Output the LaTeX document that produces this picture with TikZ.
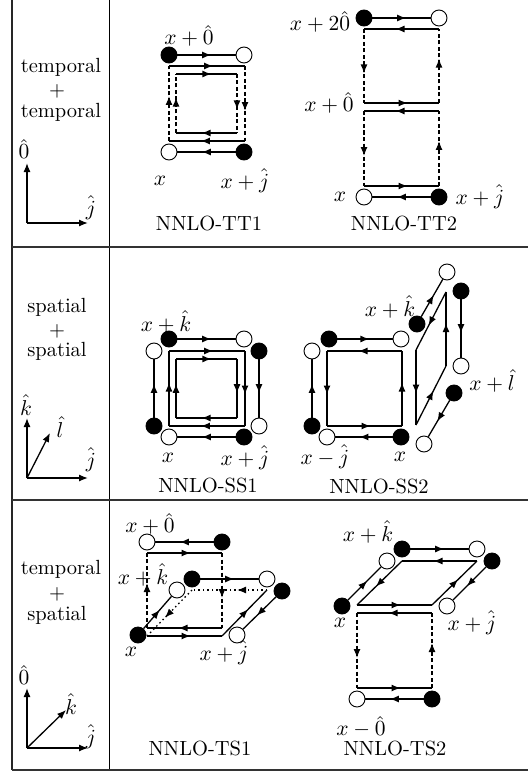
\documentclass[tikz,border=0pt]{standalone}
\usepackage{amsmath,amssymb}
\usepackage{xcolor}
\usetikzlibrary{arrows.meta,decorations.markings}

\begin{document}
\begin{tikzpicture}[
    x=1pt, y=-1pt,
    wsite/.style={circle, draw, fill=white, line width=0.9pt, minimum size=16pt, inner sep=0pt},
    bsite/.style={circle, draw, fill=black, line width=0.9pt, minimum size=16pt, inner sep=0pt},
    lab/.style={scale=2.15, inner sep=0pt},
    capt/.style={scale=2.05, inner sep=0pt},
    rowtext/.style={scale=2.05, inner sep=0pt},
    link/.style={line width=1.3pt, postaction={decorate}, decoration={markings, mark=at position #1 with {\arrow{Latex[length=9pt,width=7pt]}}}},
    link/.default=0.58,
    dlink/.style={link=#1, dash pattern=on 4pt off 2.5pt},
    dlink/.default=0.6,
    plink/.style={link=#1, dash pattern=on 1.5pt off 3pt},
    axis/.style={line width=1.3pt, -{Latex[length=9pt,width=7pt]}},
    grid/.style={line width=1.4pt, black!80}
]
\useasboundingbox (0,0) rectangle (528,773);

% Table rules
\coordinate (ltop) at (12,0);
\coordinate (lbot) at (12,770);
\coordinate (mtop) at (109,0);
\coordinate (mbot) at (109,770);
\draw[line width=1.7pt, black!85] (ltop) -- (lbot);
\draw[line width=0.9pt] (mtop) -- (mbot);
\foreach \yy/\nm in {247/a, 500/b, 770/c} {
  \coordinate (r\nm l) at (12,\yy);
  \coordinate (r\nm r) at (528,\yy);
  \draw[grid] (r\nm l) -- (r\nm r);
}

% Row headers
\node[rowtext] (h1a) at (61,67) {temporal};
\node[rowtext] (h1b) at (57,91) {+};
\node[rowtext] (h1c) at (61,112) {temporal};
\node[rowtext] (h2a) at (57,307) {spatial};
\node[rowtext] (h2b) at (57,331) {+};
\node[rowtext] (h2c) at (57,351) {spatial};
\node[rowtext] (h3a) at (61,569) {temporal};
\node[rowtext] (h3b) at (57,594) {+};
\node[rowtext] (h3c) at (57,615) {spatial};

% Axes
\coordinate (o1) at (27,223);
\coordinate (o1u) at (27,163);
\coordinate (o1r) at (88,223);
\draw[axis] (o1) -- (o1u);
\draw[axis] (o1) -- (o1r);
\node[lab] (o1t) at (24,149) {$\hat{0}$};
\node[lab] (o1j) at (91,208) {$\hat{j}$};

\coordinate (o2) at (27,478);
\coordinate (o2u) at (27,418);
\coordinate (o2r) at (88,478);
\coordinate (o2d) at (50,433);
\draw[axis] (o2) -- (o2u);
\draw[axis] (o2) -- (o2r);
\draw[axis] (o2) -- (o2d);
\node[lab] (o2k) at (26,405) {$\hat{k}$};
\node[lab] (o2l) at (60,427) {$\hat{l}$};
\node[lab] (o2j) at (91,460) {$\hat{j}$};

\coordinate (o3) at (27,748);
\coordinate (o3u) at (27,688);
\coordinate (o3r) at (88,748);
\coordinate (o3d) at (66,710);
\draw[axis] (o3) -- (o3u);
\draw[axis] (o3) -- (o3r);
\draw[axis] (o3) -- (o3d);
\node[lab] (o3t) at (24,675) {$\hat{0}$};
\node[lab] (o3k) at (71,704) {$\hat{k}$};
\node[lab] (o3j) at (91,737) {$\hat{j}$};

% NNLO-TT1
\node[bsite] (a1) at (169,55) {};
\node[wsite] (a2) at (244,55) {};
\node[wsite] (a3) at (169,152) {};
\node[bsite] (a4) at (244,152) {};
\coordinate (a5) at (169,66);
\coordinate (a6) at (245,66);
\coordinate (a7) at (245,141);
\coordinate (a8) at (169,141);
\coordinate (a9) at (176,74);
\coordinate (a10) at (237,74);
\coordinate (a11) at (237,133);
\coordinate (a12) at (176,133);
\draw[link] (a1) -- (a2);
\draw[link] (a4) -- (a3);
\draw[link] (a5) -- (a6);
\draw[dlink] (a6) -- (a7);
\draw[link] (a7) -- (a8);
\draw[dlink] (a8) -- (a5);
\draw[link] (a9) -- (a10);
\draw[dlink] (a10) -- (a11);
\draw[link] (a11) -- (a12);
\draw[dlink] (a12) -- (a9);
\node[lab] (a1t) at (189,36) {$x+\hat{0}$};
\node[lab] (a3t) at (160,181) {$x$};
\node[lab] (a4t) at (245,181) {$x+\hat{j}$};
\node[capt] (tt1) at (209,223) {NNLO-TT1};

% NNLO-TT2
\node[bsite] (b1) at (364,18) {};
\node[wsite] (b2) at (439,18) {};
\node[wsite] (b3) at (364,197) {};
\node[bsite] (b4) at (439,197) {};
\coordinate (b5) at (364,29);
\coordinate (b6) at (439,29);
\coordinate (b7) at (364,103);
\coordinate (b8) at (439,103);
\coordinate (b9) at (364,111);
\coordinate (b10) at (439,111);
\coordinate (b11) at (364,186);
\coordinate (b12) at (439,186);
\draw[link] (b1) -- (b2);
\draw[link] (b6) -- (b5);
\draw[dlink] (b5) -- (b7);
\draw[link] (b7) -- (b8);
\draw[dlink] (b8) -- (b6);
\draw[link] (b10) -- (b9);
\draw[dlink] (b9) -- (b11);
\draw[link] (b11) -- (b12);
\draw[dlink] (b12) -- (b10);
\draw[link] (b4) -- (b3);
\node[lab] (b1t) at (320,22) {$x+2\hat{0}$};
\node[lab] (b7t) at (329,103) {$x+\hat{0}$};
\node[lab] (b3t) at (340,197) {$x$};
\node[lab] (b4t) at (480,197) {$x+\hat{j}$};
\node[capt] (tt2) at (404,223) {NNLO-TT2};

% NNLO-SS1
\node[bsite] (c1) at (169,339) {};
\node[wsite] (c2) at (244,339) {};
\node[wsite] (c3) at (154,351) {};
\node[bsite] (c4) at (154,426) {};
\node[bsite] (c5) at (259,351) {};
\node[wsite] (c6) at (259,426) {};
\node[wsite] (c7) at (169,437) {};
\node[bsite] (c8) at (244,437) {};
\coordinate (c9) at (169,351);
\coordinate (c10) at (245,351);
\coordinate (c11) at (245,426);
\coordinate (c12) at (169,426);
\coordinate (c13) at (176,359);
\coordinate (c14) at (237,359);
\coordinate (c15) at (237,418);
\coordinate (c16) at (176,418);
\draw[link] (c1) -- (c2);
\draw[link] (c4) -- (c3);
\draw[link] (c5) -- (c6);
\draw[link] (c8) -- (c7);
\draw[link] (c9) -- (c10);
\draw[link] (c10) -- (c11);
\draw[link] (c11) -- (c12);
\draw[link] (c12) -- (c9);
\draw[link] (c13) -- (c14);
\draw[link] (c14) -- (c15);
\draw[link] (c15) -- (c16);
\draw[link] (c16) -- (c13);
\node[lab] (c1t) at (166,322) {$x+\hat{k}$};
\node[lab] (c7t) at (168,458) {$x$};
\node[lab] (c8t) at (245,458) {$x+\hat{j}$};
\node[capt] (ss1) at (208,485) {NNLO-SS1};

% NNLO-SS2
\node[bsite] (d1) at (329,339) {};
\node[wsite] (d2) at (401,339) {};
\node[wsite] (d3) at (312,351) {};
\node[bsite] (d4) at (312,426) {};
\node[wsite] (d5) at (327,437) {};
\node[bsite] (d6) at (401,437) {};
\coordinate (d7) at (327,351);
\coordinate (d8) at (402,351);
\coordinate (d9) at (402,426);
\coordinate (d10) at (327,426);
\draw[link] (d1) -- (d2);
\draw[link] (d4) -- (d3);
\draw[link] (d6) -- (d5);
\draw[link] (d8) -- (d7);
\draw[link] (d7) -- (d10);
\draw[link] (d10) -- (d9);
\draw[link] (d9) -- (d8);
\node[bsite] (d11) at (417,324) {};
\node[wsite] (d12) at (447,272) {};
\node[bsite] (d13) at (461,291) {};
\node[wsite] (d14) at (461,366) {};
\node[bsite] (d15) at (454,393) {};
\node[wsite] (d16) at (424,444) {};
\coordinate (d17) at (416,350);
\coordinate (d18) at (416,425);
\coordinate (d19) at (446,366);
\coordinate (d20) at (446,292);
\draw[link] (d11) -- (d12);
\draw[link] (d13) -- (d14);
\draw[link] (d15) -- (d16);
\draw[link] (d17) -- (d18);
\draw[link] (d18) -- (d19);
\draw[link] (d19) -- (d20);
\draw[link] (d20) -- (d17);
\node[lab] (d11t) at (390,307) {$x+\hat{k}$};
\node[lab] (d15t) at (492,381) {$x+\hat{l}$};
\node[lab] (d5t) at (325,457) {$x-\hat{j}$};
\node[lab] (d6t) at (400,457) {$x$};
\node[capt] (ss2) at (379,486) {NNLO-SS2};

% NNLO-TS1
\node[wsite] (e1) at (147,542) {};
\node[bsite] (e2) at (222,542) {};
\node[bsite] (e3) at (138,635) {};
\node[wsite] (e4) at (177,590) {};
\node[bsite] (e5) at (192,579) {};
\node[wsite] (e6) at (267,579) {};
\node[bsite] (e7) at (282,591) {};
\node[wsite] (e8) at (237,635) {};
\coordinate (e9) at (147,553);
\coordinate (e10) at (222,553);
\coordinate (e11) at (222,628);
\coordinate (e12) at (147,628);
\coordinate (e13) at (147,636);
\coordinate (e14) at (222,636);
\coordinate (e15) at (267,590);
\coordinate (e16) at (192,590);
\draw[link] (e2) -- (e1);
\draw[link] (e9) -- (e10);
\draw[dlink] (e10) -- (e11);
\draw[link] (e11) -- (e12);
\draw[dlink] (e12) -- (e9);
\draw[link] (e3) -- (e4);
\draw[link] (e5) -- (e6);
\draw[link] (e7) -- (e8);
\draw[link] (e13) -- (e14);
\draw[link] (e14) -- (e15);
\draw[plink=0.4] (e15) -- (e16);
\draw[plink=0.6] (e16) -- (e13);
\node[lab] (e1t) at (150,524) {$x+\hat{0}$};
\node[lab] (e4t) at (143,575) {$x+\hat{k}$};
\node[lab] (e3t) at (131,652) {$x$};
\node[lab] (e8t) at (224,653) {$x+\hat{j}$};
\node[capt] (ts1) at (200,748) {NNLO-TS1};

% NNLO-TS2
\node[bsite] (f1) at (342,606) {};
\node[wsite] (f2) at (387,561) {};
\node[bsite] (f3) at (402,549) {};
\node[wsite] (f4) at (477,549) {};
\node[bsite] (f5) at (492,561) {};
\node[wsite] (f6) at (447,606) {};
\node[wsite] (f7) at (357,699) {};
\node[bsite] (f8) at (432,699) {};
\coordinate (f9) at (357,605);
\coordinate (f10) at (432,605);
\coordinate (f11) at (477,561);
\coordinate (f12) at (402,561);
\coordinate (f13) at (357,613);
\coordinate (f14) at (432,613);
\coordinate (f15) at (357,688);
\coordinate (f16) at (432,688);
\draw[link] (f1) -- (f2);
\draw[link] (f3) -- (f4);
\draw[link] (f5) -- (f6);
\draw[link] (f8) -- (f7);
\draw[link] (f9) -- (f10);
\draw[link] (f10) -- (f11);
\draw[link] (f11) -- (f12);
\draw[link] (f12) -- (f9);
\draw[link] (f14) -- (f13);
\draw[dlink] (f13) -- (f15);
\draw[link] (f15) -- (f16);
\draw[dlink] (f16) -- (f14);
\node[lab] (f3t) at (368,532) {$x+\hat{k}$};
\node[lab] (f1t) at (340,623) {$x$};
\node[lab] (f6t) at (472,623) {$x+\hat{j}$};
\node[lab] (f7t) at (361,727) {$x-\hat{0}$};
\node[capt] (ts2) at (395,748) {NNLO-TS2};

\end{tikzpicture}
\end{document}
